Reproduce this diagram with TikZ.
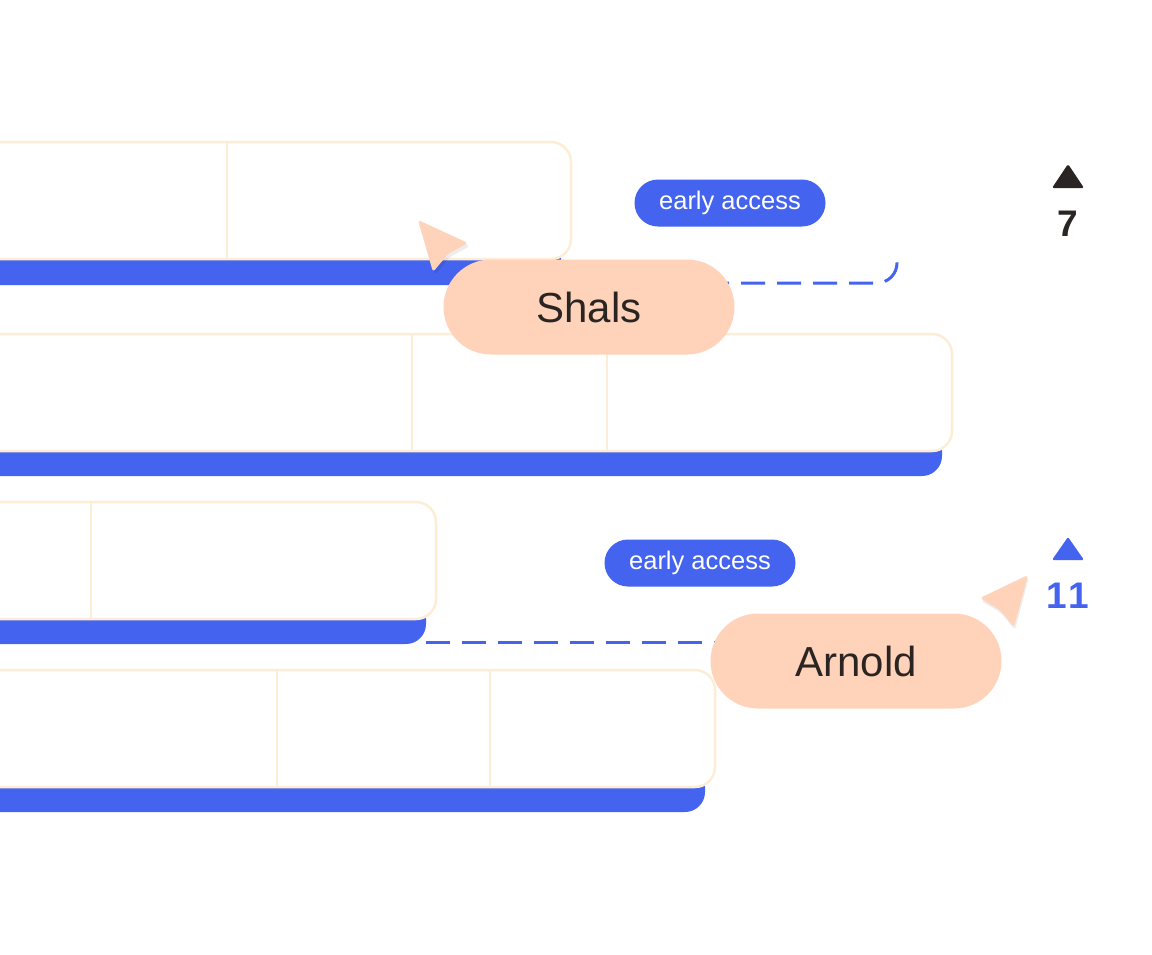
\documentclass[tikz,border=0pt]{standalone}
\usepackage{fontspec}
\setmainfont{Liberation Sans}
\newfontfamily\votefont[LetterSpace=8]{Liberation Sans}
\usetikzlibrary{shapes.misc}
\pgfdeclarelayer{background}
\pgfsetlayers{background,main}
\definecolor{barblue}{HTML}{4463EE}
\definecolor{cream}{HTML}{FDEDD5}
\definecolor{peach}{HTML}{FFD3BA}
\definecolor{inkdark}{HTML}{2A2522}
\tikzset{
  slot/.style={draw=cream, line width=2.5pt, fill=white, rounded corners=20pt},
  divider/.style={draw=cream, line width=2.5pt},
  bar/.style={fill=barblue, rounded corners=20pt},
  namepill/.style={rounded rectangle, fill=peach, text=inkdark, minimum width=291pt, minimum height=95pt, inner sep=0pt, font=\fontsize{42}{50}\selectfont},
  tagpill/.style={rounded rectangle, fill=barblue, text=white, minimum width=191pt, minimum height=47pt, inner sep=0pt, font=\fontsize{25.5}{30}\selectfont},
  dashline/.style={draw=barblue, line width=3pt, dash pattern=on 24pt off 12pt},
  pointer/.style={fill=peach, rounded corners=3pt},
  pointershade/.style={fill=black, opacity=0.07, rounded corners=3pt},
  vote/.style={font=\votefont\bfseries\fontsize{37}{44}\selectfont}
}
\begin{document}
\begin{tikzpicture}[x=1pt, y=-1pt]
    \useasboundingbox (0,0) rectangle (1152,954);
    \clip (0,0) rectangle (1152,954);
    % row 1
    \fill[bar] (-30,239) rectangle (561,285);
    \draw[slot] (-30,142) rectangle (571,259);
    \draw[divider] (227,142) -- (227,259);
    % row 2
    \fill[bar] (-30,431) rectangle (942,476);
    \draw[slot] (-30,334) rectangle (952,451);
    \draw[divider] (412,334) -- (412,451) (607,334) -- (607,451);
    % row 3
    \fill[bar] (-30,599) rectangle (426,644);
    \draw[slot] (-30,502) rectangle (436,619);
    \draw[divider] (91,502) -- (91,619);
    % row 4
    \fill[bar] (-30,767) rectangle (705,812);
    \draw[slot] (-30,670) rectangle (715,787);
    \draw[divider] (277,670) -- (277,787) (490,670) -- (490,787);
    % dashed links
    \coordinate (barone) at (561,283);
    \coordinate (hookone) at (897,257);
    \coordinate (barthree) at (426,642);
    \draw[dashline, rounded corners=20pt] (barone) -| (hookone);
    % labels
    \node[tagpill] (tagone) at (730,203) {early access};
    \node[tagpill] (tagtwo) at (700,563) {early access};
    \node[namepill] (shals) at (589,307) {Shals};
    \node[namepill] (arnold) at (856,661) {Arnold};
    \begin{pgfonlayer}{background}
        \draw[dashline] (barthree) -- (barthree -| arnold.center);
    \end{pgfonlayer}
    % votes
    \fill[inkdark, rounded corners=1.5pt] (1068,164) -- (1084,188) -- (1052,188) -- cycle;
    \node[vote, text=inkdark] (voteone) at (1068,224) {7};
    \fill[barblue, rounded corners=1.5pt] (1068,537) -- (1084,560) -- (1052,560) -- cycle;
    \node[vote, text=barblue] (votetwo) at (1068,596) {11};
    % pointers
    \fill[pointershade] (419,222) -- (470,246) -- (450,257) -- (435,275) -- cycle;
    \fill[pointer] (418,220) -- (468,243) -- (448,254) -- (433,272) -- cycle;
    \fill[pointershade] (1029,577) -- (981,601) -- (1001,613) -- (1015,630) -- cycle;
    \fill[pointer] (1028,575) -- (980,598) -- (1000,610) -- (1014,627) -- cycle;
\end{tikzpicture}
\end{document}
